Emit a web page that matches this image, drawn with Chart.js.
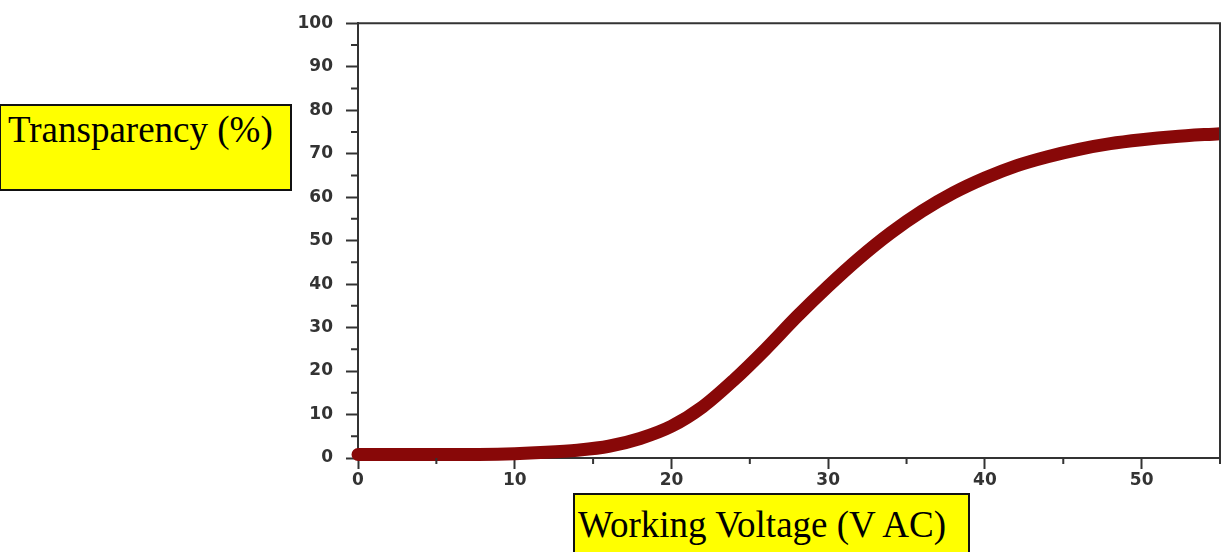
<!DOCTYPE html>
<html>
<head>
<meta charset="utf-8">
<script src="https://cdn.jsdelivr.net/npm/chart.js@4"></script>
<style>
  body { margin: 0; background: #fff; }
  #wrap { position: relative; width: 1222px; height: 552px; overflow: hidden; }
  canvas { position: absolute; left: 0; top: 0; }
  .titulo {
    position: absolute;
    background: #ffff00;
    border: 2px solid #111;
    font-family: "Liberation Serif", "Times New Roman", serif;
    font-size: 37px;
    line-height: 40px;
    color: #000;
    white-space: nowrap;
    box-sizing: border-box;
  }
  #titulo-y { left: -1px; top: 104px; width: 293px; height: 87px; padding: 4px 0 0 7px; }
  #titulo-x { left: 573px; top: 493px; width: 397px; height: 70px; padding: 10px 0 0 3px; }
</style>
</head>
<body>
<div id="wrap">
  <canvas id="grafico" width="1222" height="552"></canvas>
  <div class="titulo" id="titulo-y">Transparency (%)</div>
  <div class="titulo" id="titulo-x">Working Voltage (V AC)</div>
</div>
<script>
// Datos
const voltaje = [0, 5, 10, 12, 14, 16, 18, 20, 22, 24, 26, 28, 30, 32, 34, 36, 38, 40, 42, 44, 46, 48, 50, 52, 55];
const transparencia = [0.8, 0.8, 1.0, 1.3, 1.8, 2.7, 4.5, 7.3, 11.8, 18.0, 25, 32.5, 39.5, 46, 51.8, 56.8, 61.0, 64.4, 67.2, 69.3, 71, 72.3, 73.2, 73.9, 74.6];

// Marcas de los ejes
const ticksX = [0, 10, 20, 30, 40, 50];
const ticksY = [0, 10, 20, 30, 40, 50, 60, 70, 80, 90, 100];
const menoresX = [5, 15, 25, 35, 45, 55];
const menoresY = [5, 15, 25, 35, 45, 55, 65, 75, 85, 95];

const colorEje = "#333";
const fuenteTicks = { family: "DejaVu Sans", size: 17, weight: "bold" };

// Marco superior/derecho y marcas menores
const marcoPlugin = {
    id: "marco",
    afterDraw(chart) {
        const ctx = chart.ctx;
        const a = chart.chartArea;
        const sx = chart.scales.x;
        const sy = chart.scales.y;
        ctx.save();
        ctx.strokeStyle = colorEje;
        ctx.lineWidth = 2;
        ctx.beginPath();
        ctx.moveTo(a.left, a.top);
        ctx.lineTo(a.right, a.top);
        ctx.lineTo(a.right, a.bottom);
        ctx.stroke();
        ctx.beginPath();
        menoresX.forEach(v => {
            const px = sx.getPixelForValue(v);
            ctx.moveTo(px, a.bottom);
            ctx.lineTo(px, a.bottom + 6);
        });
        menoresY.forEach(v => {
            const py = sy.getPixelForValue(v);
            ctx.moveTo(a.left, py);
            ctx.lineTo(a.left - 7, py);
        });
        ctx.stroke();
        ctx.restore();
    }
};

const ctx = document.getElementById("grafico").getContext("2d");
new Chart(ctx, {
    type: "line",
    data: {
        labels: voltaje,
        datasets: [{
            data: voltaje.map((v, i) => ({ x: v, y: transparencia[i] })),
            borderColor: "#880808",
            borderWidth: 13,
            borderCapStyle: "round",
            pointRadius: 0,
            cubicInterpolationMode: "monotone",
            fill: false,
            clip: { left: 8, top: 10, right: 0, bottom: 10 },
        }],
    },
    options: {
        responsive: false,
        animation: false,
        layout: { padding: { top: 20, right: 2, left: 0, bottom: 0 } },
        plugins: { legend: { display: false }, tooltip: { enabled: false } },
        scales: {
            x: {
                type: "linear",
                min: 0,
                max: 55,
                afterBuildTicks: s => { s.ticks = ticksX.map(v => ({ value: v })); },
                afterFit: s => { s.height = 94; },
                border: { display: true, color: colorEje, width: 2 },
                grid: { drawOnChartArea: false, tickLength: 11, tickColor: colorEje, tickWidth: 2 },
                ticks: { color: colorEje, font: fuenteTicks, padding: 1, maxRotation: 0 },
            },
            y: {
                min: 0,
                max: 100,
                afterBuildTicks: s => { s.ticks = ticksY.map(v => ({ value: v })); },
                afterFit: s => { s.width = 358; },
                border: { display: true, color: colorEje, width: 2 },
                grid: { drawOnChartArea: false, tickLength: 12, tickColor: colorEje, tickWidth: 2 },
                ticks: { color: colorEje, font: fuenteTicks, padding: 13 },
            },
        },
    },
    plugins: [marcoPlugin],
});
</script>
</body>
</html>
